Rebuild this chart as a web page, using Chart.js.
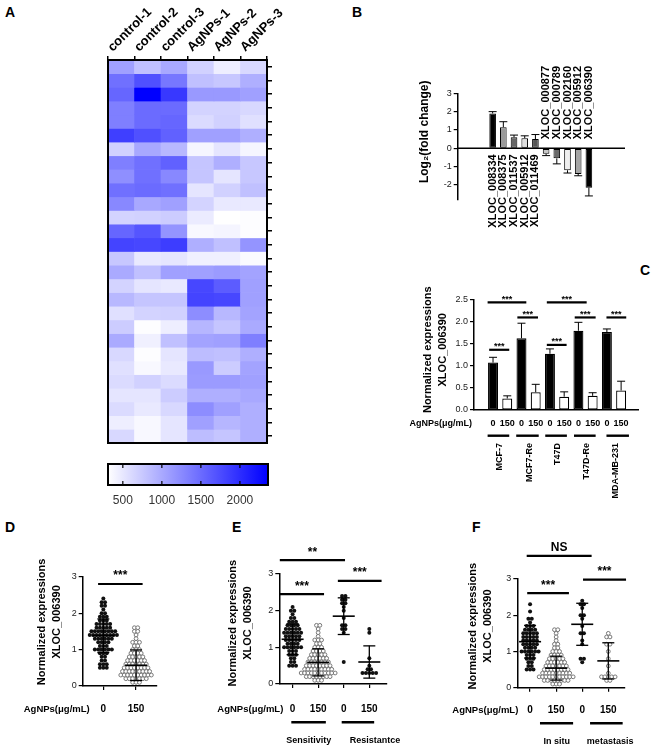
<!DOCTYPE html>
<html>
<head>
<meta charset="utf-8">
<script src="https://cdn.jsdelivr.net/npm/chart.js@4.4.1/dist/chart.umd.min.js"></script>
<style>
  html, body { margin: 0; padding: 0; background: #fff; }
  #fig { position: relative; width: 666px; height: 747px; overflow: hidden; background: #fff; }
  #fig canvas { position: absolute; left: 0; top: 0; }
  .tag { position: absolute; font: bold 14px "Liberation Sans", Arial, sans-serif; color: #000; }
</style>
</head>
<body>
<div id="fig">
  <div class="tag" style="left:5px;top:4px">A</div>
  <div class="tag" style="left:352px;top:4px">B</div>
  <div class="tag" style="left:640px;top:262px">C</div>
  <div class="tag" style="left:5px;top:519px">D</div>
  <div class="tag" style="left:232px;top:519px">E</div>
  <div class="tag" style="left:472px;top:519px">F</div>
</div>
<script>
const W = 666, H = 747;
const FONT = '"Liberation Sans", Arial, Helvetica, sans-serif';

// ---- A: heatmap (28 transcripts x 6 samples) ----
const heatCols = ["control-1", "control-2", "control-3", "AgNPs-1", "AgNPs-2", "AgNPs-3"];
const heatRows = [
    [1070, 820, 1010, 680, 450, 620],
    [1460, 1720, 1400, 820, 760, 950],
    [1540, 2360, 1910, 1130, 1130, 1070],
    [1340, 1500, 1500, 660, 660, 620],
    [1340, 1500, 1540, 600, 680, 560],
    [1850, 1720, 1580, 1070, 1070, 950],
    [680, 1010, 880, 390, 520, 390],
    [1340, 1460, 1580, 780, 950, 760],
    [1210, 1460, 1270, 780, 520, 760],
    [1460, 1500, 1460, 520, 680, 820],
    [1270, 1010, 1070, 660, 490, 490],
    [660, 680, 720, 470, 310, 330],
    [1540, 1680, 1170, 370, 390, 330],
    [1810, 1790, 1870, 950, 820, 1170],
    [760, 490, 520, 430, 430, 350],
    [990, 820, 1070, 1070, 1110, 1050],
    [660, 520, 490, 1790, 1620, 1070],
    [880, 780, 780, 1810, 1790, 1070],
    [560, 660, 680, 1230, 880, 1050],
    [720, 330, 450, 900, 780, 990],
    [990, 430, 820, 1050, 1070, 1340],
    [620, 330, 520, 840, 820, 950],
    [560, 370, 490, 1130, 720, 1050],
    [600, 680, 600, 1110, 1110, 1070],
    [520, 520, 720, 950, 950, 1010],
    [600, 490, 620, 1230, 1070, 950],
    [450, 370, 520, 1070, 900, 950],
    [620, 370, 520, 840, 780, 950],
];
const heatMin = 310;
const heatMax = 2360;
const heatBarTicks = [500, 1000, 1500, 2000];

// ---- B: log2 fold change ----
const bGenes = ["XLOC_008334", "XLOC_008375", "XLOC_011537", "XLOC_005912", "XLOC_011469",
    "XLOC_000877", "XLOC_000789", "XLOC_002160", "XLOC_005912", "XLOC_006390"];
const bFold = [1.9, 1.15, 0.6, 0.55, 0.5, -0.3, -0.55, -1.2, -1.4, -2.15];
const bErr = [0.1, 0.3, 0.12, 0.13, 0.25, 0.1, 0.3, 0.15, 0.1, 0.45];
const bTicks = [3, 2, 1, 0, -1, -2];

// ---- C: cell lines ----
const cDose = ["0", "150", "0", "150", "0", "150", "0", "150", "0", "150"];
const cCells = ["MCF-7", "MCF7-Re", "T47D", "T47D-Re", "MDA-MB-231"];
const cMean = [1.07, 0.26, 1.62, 0.40, 1.27, 0.30, 1.79, 0.32, 1.76, 0.44];
const cSd = [0.12, 0.06, 0.34, 0.18, 0.11, 0.11, 0.19, 0.07, 0.07, 0.21];
const cTicks = [0, 0.5, 1, 1.5, 2, 2.5];

// ---- D: all samples ----
const dDose = ["0", "150"];
const dCtrl = [2.4, 2.3, 2.3, 2.2, 2.2, 2.1, 2.0, 2.0, 1.9, 1.9, 1.9, 1.8, 1.8, 1.8,
    1.7, 1.7, 1.7, 1.7, 1.7, 1.6, 1.6, 1.6, 1.6, 1.6, 1.5, 1.5, 1.5, 1.5, 1.5, 1.5, 1.5, 1.5,
    1.4, 1.4, 1.4, 1.4, 1.4, 1.4, 1.4, 1.4, 1.4, 1.3, 1.3, 1.3, 1.3, 1.3, 1.3,
    1.2, 1.2, 1.2, 1.2, 1.1, 1.1, 1.1, 1.0, 1.0, 1.0, 1.0, 1.0, 1.0,
    0.9, 0.9, 0.9, 0.8, 0.8, 0.7, 0.7, 0.6, 0.6, 0.6, 0.5, 0.5, 0.5];
const dAg = [1.6, 1.6, 1.5, 1.5, 1.4, 1.3, 1.2, 1.2, 1.2, 1.1, 1.1, 1.0, 1.0, 1.0,
    0.9, 0.9, 0.9, 0.9, 0.8, 0.8, 0.8, 0.8, 0.8, 0.7, 0.7, 0.7, 0.7, 0.7, 0.7,
    0.6, 0.6, 0.6, 0.6, 0.6, 0.6, 0.6, 0.5, 0.5, 0.5, 0.5, 0.5, 0.5, 0.5, 0.5,
    0.4, 0.4, 0.4, 0.4, 0.4, 0.4, 0.4, 0.4, 0.4, 0.3, 0.3, 0.3, 0.3, 0.3, 0.3, 0.3, 0.3, 0.3, 0.3,
    0.2, 0.2, 0.2, 0.2, 0.2, 0.2, 0.2, 0.1, 0.1, 0.1];
const dMean = [1.38, 0.57];
const dSd = [0.46, 0.42];

// ---- E: sensitivity / resistance ----
const eDose = ["0", "150", "0", "150"];
const eSens0 = [2.1, 2.0, 2.0, 1.9, 1.8, 1.8, 1.7, 1.7, 1.7, 1.6, 1.6, 1.6, 1.6,
    1.5, 1.5, 1.5, 1.5, 1.5, 1.4, 1.4, 1.4, 1.4, 1.4, 1.4, 1.3, 1.3, 1.3, 1.3, 1.3,
    1.2, 1.2, 1.2, 1.2, 1.2, 1.1, 1.1, 1.1, 1.1, 1.0, 1.0, 1.0, 1.0, 1.0, 1.0,
    0.9, 0.9, 0.9, 0.8, 0.8, 0.8, 0.7, 0.7, 0.6, 0.6, 0.5, 0.5, 0.5];
const eSens150 = [1.6, 1.6, 1.5, 1.4, 1.3, 1.2, 1.2, 1.2, 1.1, 1.1, 1.0, 1.0, 1.0,
    0.9, 0.9, 0.9, 0.9, 0.8, 0.8, 0.8, 0.8, 0.8, 0.7, 0.7, 0.7, 0.7, 0.7, 0.7,
    0.6, 0.6, 0.6, 0.6, 0.6, 0.6, 0.6, 0.5, 0.5, 0.5, 0.5, 0.5, 0.5, 0.5, 0.5,
    0.4, 0.4, 0.4, 0.4, 0.4, 0.4, 0.4, 0.4, 0.4,
    0.3, 0.3, 0.3, 0.3, 0.3, 0.3, 0.3, 0.3, 0.3, 0.3, 0.3,
    0.2, 0.2, 0.2, 0.2, 0.2, 0.2, 0.2, 0.2, 0.1, 0.1, 0.1];
const eRes0 = [2.4, 2.4, 2.3, 2.3, 2.2, 2.2, 2.1, 2.0, 1.8, 1.6, 1.6, 1.5, 1.5, 1.4, 0.6];
const eRes150 = [1.5, 1.4, 0.7, 0.5, 0.4, 0.4, 0.3, 0.3, 0.3, 0.3, 0.3];
const eMean = [1.22, 0.59, 1.85, 0.6];
const eSd = [0.42, 0.37, 0.5, 0.44];

// ---- F: in situ / metastasis ----
const fDose = ["0", "150", "0", "150"];
const fSitu0 = [2.3, 2.1, 1.9, 1.9, 1.8, 1.7, 1.7, 1.7, 1.6, 1.6, 1.6, 1.6,
    1.5, 1.5, 1.5, 1.5, 1.5, 1.4, 1.4, 1.4, 1.4, 1.4, 1.3, 1.3, 1.3, 1.3, 1.3,
    1.2, 1.2, 1.2, 1.2, 1.2, 1.1, 1.1, 1.1, 1.1, 1.0, 1.0, 1.0, 1.0, 1.0, 1.0,
    0.9, 0.9, 0.9, 0.8, 0.8, 0.8, 0.7, 0.7, 0.6, 0.6, 0.5, 0.5, 0.5];
const fSitu150 = [1.6, 1.6, 1.5, 1.4, 1.3, 1.2, 1.2, 1.1, 1.1, 1.0, 1.0, 1.0,
    0.9, 0.9, 0.9, 0.9, 0.8, 0.8, 0.8, 0.8, 0.8, 0.7, 0.7, 0.7, 0.7, 0.7, 0.7,
    0.6, 0.6, 0.6, 0.6, 0.6, 0.6, 0.6, 0.5, 0.5, 0.5, 0.5, 0.5, 0.5, 0.5, 0.5,
    0.4, 0.4, 0.4, 0.4, 0.4, 0.4, 0.4, 0.4, 0.4,
    0.3, 0.3, 0.3, 0.3, 0.3, 0.3, 0.3, 0.3, 0.3, 0.3, 0.3,
    0.2, 0.2, 0.2, 0.2, 0.2, 0.2, 0.2, 0.2, 0.1, 0.1, 0.1];
const fMet0 = [2.4, 2.3, 2.3, 2.2, 2.0, 2.0, 1.9, 1.7, 1.5, 1.5, 1.3, 1.2, 0.8, 0.8, 0.7];
const fMet150 = [1.5, 1.4, 1.4, 1.2, 1.2, 1.0, 0.8, 0.6, 0.4, 0.3, 0.3, 0.3, 0.3, 0.3, 0.2, 0.2];
const fMean = [1.27, 0.54, 1.75, 0.74];
const fSd = [0.45, 0.33, 0.58, 0.5];

const exprTitle = ["Normalized expressions", "XLOC_006390"];

Chart.defaults.font.family = FONT;
Chart.defaults.color = "#111";

function makeCtx() {
    const c = document.createElement("canvas");
    c.width = W;
    c.height = H;
    document.getElementById("fig").appendChild(c);
    return c.getContext("2d");
}

function pad(l, t, r, b) {
    return { left: l, top: t, right: W - r, bottom: H - b };
}

function line(ctx, x1, y1, x2, y2, w) {
    ctx.save();
    ctx.strokeStyle = "#000";
    ctx.lineWidth = w || 1;
    ctx.beginPath();
    ctx.moveTo(x1, y1);
    ctx.lineTo(x2, y2);
    ctx.stroke();
    ctx.restore();
}

function text(ctx, s, x, y, font, align, rot, base) {
    ctx.save();
    ctx.translate(x, y);
    if (rot) ctx.rotate(rot);
    ctx.font = font;
    ctx.fillStyle = "#000";
    ctx.textAlign = align || "center";
    ctx.textBaseline = base || "middle";
    ctx.fillText(s, 0, 0);
    ctx.restore();
}

function heatColor(v) {
    const t = Math.max(0, Math.min(1, (v - heatMin) / (heatMax - heatMin)));
    const c = Math.round(255 * (1 - t));
    return "rgb(" + c + "," + c + ",255)";
}

// beeswarm: equal values are laid side by side around the group centre
function swarm(values, center, step) {
    const total = {}, seen = {};
    values.forEach(function (v) { total[v] = (total[v] || 0) + 1; });
    return values.map(function (v) {
        const k = (seen[v] = (seen[v] || 0) + 1) - 1;
        return { x: center + (k - (total[v] - 1) / 2) * step, y: v };
    });
}

function fixedTicks(list) {
    return function (s) { s.ticks = list.map(function (v) { return { value: v }; }); };
}

const framePlugin = {
    id: "frame",
    afterDatasetsDraw: function (chart, args, o) {
        const a = chart.chartArea, ctx = chart.ctx;
        ctx.save();
        ctx.strokeStyle = "#000";
        ctx.lineWidth = o.width || 2;
        ctx.strokeRect(a.left, a.top, a.right - a.left, a.bottom - a.top);
        if (o.inner) {
            o.inner.forEach(function (v) {
                const px = chart.scales.x.getPixelForValue(v);
                line(ctx, px, a.top, px, a.top + 4, 1.2);
                line(ctx, px, a.bottom - 4, px, a.bottom, 1.2);
            });
        }
        ctx.restore();
    },
};

// significance brackets, group underlines, error bars, axis titles, side labels
const annot = {
    id: "annot",
    afterDatasetsDraw: function (chart, args, o) {
        const ctx = chart.ctx, x = chart.scales.x, y = chart.scales.y, a = chart.chartArea;
        if (o.zero) line(ctx, a.left, y.getPixelForValue(0), a.right, y.getPixelForValue(0), 1.5);
        if (o.err) {
            chart.getDatasetMeta(0).data.forEach(function (bar, i) {
                const v = o.vals[i], tip = v + (v >= 0 ? o.err[i] : -o.err[i]);
                const yt = y.getPixelForValue(tip), yv = y.getPixelForValue(v);
                line(ctx, bar.x, yv, bar.x, yt, 1);
                line(ctx, bar.x - o.cap, yt, bar.x + o.cap, yt, 1);
            });
        }
        if (o.meanSd) {
            o.meanSd.mean.forEach(function (m, i) {
                const cx = x.getPixelForValue(i), sd = o.meanSd.sd[i];
                const ym = y.getPixelForValue(m), y1 = y.getPixelForValue(m + sd), y2 = y.getPixelForValue(m - sd);
                line(ctx, cx, y1, cx, y2, 1.3);
                line(ctx, cx - o.meanSd.half, ym, cx + o.meanSd.half, ym, 1.6);
                line(ctx, cx - o.meanSd.cap, y1, cx + o.meanSd.cap, y1, 1.3);
                line(ctx, cx - o.meanSd.cap, y2, cx + o.meanSd.cap, y2, 1.3);
            });
        }
    },
    afterDraw: function (chart, args, o) {
        const ctx = chart.ctx, x = chart.scales.x, y = chart.scales.y, a = chart.chartArea;
        (o.sig || []).forEach(function (s) {
            const yy = y.getPixelForValue(s.y), x1 = x.getPixelForValue(s.a), x2 = x.getPixelForValue(s.b);
            line(ctx, x1, yy, x2, yy, 2.2);
            text(ctx, s.text, (x1 + x2) / 2, yy - o.sigGap, "bold " + (s.size || o.sigSize) + "px " + FONT, "center", 0, "alphabetic");
        });
        if (o.under) {
            o.under.lines.forEach(function (u) {
                line(ctx, x.getPixelForValue(u[0]), a.bottom + o.under.dy, x.getPixelForValue(u[1]), a.bottom + o.under.dy, 2.4);
            });
        }
        if (o.names) {
            o.names.items.forEach(function (n) {
                const px = x.getPixelForValue(n.x);
                if (o.names.rotate) text(ctx, n.text, px, a.bottom + o.names.dy, o.names.font, "right", -Math.PI / 2);
                else text(ctx, n.text, px, a.bottom + o.names.dy, o.names.font, "center");
            });
        }
        if (o.genes) {
            const zero = y.getPixelForValue(0);
            o.genes.forEach(function (g, i) {
                const px = x.getPixelForValue(i);
                if (o.vals[i] >= 0) text(ctx, g, px, zero + 6, "bold 11px " + FONT, "right", -Math.PI / 2);
                else text(ctx, g, px, zero - 9, "bold 11px " + FONT, "left", -Math.PI / 2);
            });
        }
        if (o.ytitle) {
            const t = o.ytitle, lines = [].concat(t.text);
            lines.forEach(function (s, i) {
                text(ctx, s, a.left + t.dx + i * 15, y.getPixelForValue(t.at), t.font, "center", -Math.PI / 2);
            });
        }
        if (o.side) text(ctx, o.side.text, a.left + o.side.dx, a.bottom + o.side.dy, o.side.font, "right");
    },
};

function axisY(extra) {
    return Object.assign({
        grid: { drawOnChartArea: false, tickLength: 4, color: "#000", lineWidth: 1.2 },
        border: { color: "#000", width: 1.5 },
        ticks: { color: "#222", padding: 2, font: { size: 9 } },
    }, extra);
}

const base = function (padding, plugins) {
    return {
        responsive: false,
        animation: false,
        events: [],
        layout: { padding: padding },
        plugins: Object.assign({ legend: { display: false }, tooltip: { enabled: false } }, plugins),
    };
};

// ---------- A: heatmap ----------
(function () {
    const opts = base(pad(108, 0, 267 + 12, 443), { frame: { width: 2 } });
    opts.scales = {
        x: {
            position: "top", stacked: true,
            afterFit: function (s) { s.height = 60; },
            grid: { drawOnChartArea: false, tickLength: 4, color: "#000", lineWidth: 1.5 },
            border: { color: "#000", width: 2 },
            ticks: { minRotation: 45, maxRotation: 45, padding: 1, color: "#000", font: { size: 13, weight: "bold" } },
        },
        y: {
            position: "right", stacked: true, reverse: true, min: 0, max: heatRows.length,
            afterFit: function (s) { s.width = 12; },
            afterBuildTicks: function (s) {
                s.ticks = heatRows.map(function (r, i) { return { value: i + 0.5 }; });
            },
            grid: { drawOnChartArea: false, tickLength: 5, color: "#000", lineWidth: 1.5 },
            border: { color: "#000", width: 2 },
            ticks: { display: false },
        },
    };
    new Chart(makeCtx(), {
        type: "bar",
        data: {
            labels: heatCols,
            datasets: heatRows.map(function (row) {
                return {
                    data: row.map(function () { return 1; }),
                    backgroundColor: row.map(heatColor),
                    borderWidth: 0, barPercentage: 1, categoryPercentage: 1,
                };
            }),
        },
        options: opts,
        plugins: [framePlugin],
    });

    // colour bar
    const cb = base(pad(108, 464, 268, 485 + 30), { frame: { width: 2, inner: heatBarTicks } });
    cb.indexAxis = "y";
    cb.scales = {
        x: {
            min: heatMin, max: heatMax,
            afterFit: function (s) { s.height = 30; },
            afterBuildTicks: fixedTicks(heatBarTicks),
            grid: { display: false, drawTicks: false }, border: { display: false },
            ticks: { color: "#333", padding: 8, font: { size: 12 }, callback: function (v) { return String(v); } },
        },
        y: { display: false },
    };
    new Chart(makeCtx(), {
        type: "bar",
        data: {
            labels: [""],
            datasets: [{
                data: [[heatMin, heatMax]], borderWidth: 0, barPercentage: 1, categoryPercentage: 1,
                backgroundColor: function (c) {
                    const a = c.chart.chartArea;
                    if (!a) return "#8080ff";
                    const g = c.chart.ctx.createLinearGradient(a.left, 0, a.right, 0);
                    g.addColorStop(0, "#ffffff");
                    g.addColorStop(1, "#0000ff");
                    return g;
                },
            }],
        },
        options: cb,
        plugins: [framePlugin],
    });
})();

// ---------- B ----------
(function () {
    const opts = base(pad(418, 93.3, 625, 199.6), {
        annot: {
            zero: true, err: bErr, vals: bFold, cap: 4, genes: bGenes,
            ytitle: { text: "Log\u2082(fold change)", dx: -33, at: 0.9, font: "bold 12px " + FONT },
        },
    });
    opts.scales = {
        x: { type: "linear", min: -0.66, max: 9.77, display: false },
        y: axisY({
            min: -2.8, max: 3,
            afterFit: function (s) { s.width = 39.7; },
            afterBuildTicks: fixedTicks(bTicks),
        }),
    };
    new Chart(makeCtx(), {
        type: "bar",
        data: {
            datasets: [{
                data: bFold.map(function (v, i) { return { x: i, y: v }; }),
                backgroundColor: ["#000", "#9a9a9a", "#666", "#dedede", "#555", "#c8c8c8", "#6a6a6a", "#efefef", "#a5a5a5", "#000"],
                borderColor: "#000", borderWidth: 1, borderSkipped: false,
                barPercentage: 0.62, categoryPercentage: 1,
            }],
        },
        options: opts,
        plugins: [annot],
    });
})();

// ---------- C ----------
(function () {
    const opts = base(pad(420.5, 299.3, 638, 410 + 30), {
        annot: {
            err: cSd, vals: cMean, cap: 4, sigGap: 0.5, sigSize: 9,
            sig: [
                { a: -0.27, b: 1.14, y: 1.36, text: "***" },
                { a: 1.71, b: 3.16, y: 2.09, text: "***" },
                { a: -0.38, b: 2.34, y: 2.43, text: "***" },
                { a: 3.78, b: 5.17, y: 1.47, text: "***" },
                { a: 5.74, b: 7.21, y: 2.09, text: "***" },
                { a: 3.78, b: 6.58, y: 2.43, text: "***" },
                { a: 7.97, b: 9.36, y: 2.09, text: "***" },
            ],
            under: { dy: 25.7, lines: [[-0.38, 1.14], [1.63, 3.21], [3.67, 5.19], [5.69, 7.21], [7.97, 9.55]] },
            names: {
                dy: 33, rotate: true, font: "bold 9px " + FONT,
                items: cCells.map(function (c, i) { return { x: [0.44, 2.57, 4.55, 6.58, 8.58][i], text: c }; }),
            },
            side: { text: "AgNPs(\u03bcg/mL)", dx: -2, dy: 14, font: "bold 9px " + FONT },
            ytitle: { text: exprTitle, dx: -45.7, at: 1.36, font: "bold 11px " + FONT },
        },
    });
    opts.scales = {
        x: {
            type: "linear", min: -0.76, max: 9.61,
            afterFit: function (s) { s.height = 30; },
            afterBuildTicks: fixedTicks(cDose.map(function (d, i) { return i; })),
            grid: { display: false, drawTicks: false },
            border: { color: "#000", width: 1.5 },
            ticks: {
                color: "#000", padding: 8, autoSkip: false, minRotation: 0, maxRotation: 0,
                font: { size: 9, weight: "bold" }, callback: function (v) { return cDose[v]; },
            },
        },
        y: axisY({
            min: 0, max: 2.5,
            afterFit: function (s) { s.width = 53.5; },
            afterBuildTicks: fixedTicks(cTicks),
            ticks: { color: "#222", padding: 2, font: { size: 9 }, callback: function (v) { return v.toFixed(1); } },
        }),
    };
    new Chart(makeCtx(), {
        type: "bar",
        data: {
            datasets: [{
                data: cMean.map(function (v, i) { return { x: i, y: v }; }),
                backgroundColor: cDose.map(function (d) { return d === "0" ? "#000" : "#fff"; }),
                borderColor: "#000", borderWidth: 1.2, borderSkipped: false,
                barPercentage: 0.7, categoryPercentage: 1,
            }],
        },
        options: opts,
        plugins: [annot],
    });
})();

// ---------- D, E, F: scatter dot plots ----------
function dotPanel(p) {
    const unit = (p.area[2] - p.area[0]) / (p.xMax - p.xMin);
    const step = 3.4 / unit;
    const xh = 40;
    const padL = p.area[0] - 50;
    const opts = base(pad(padL, p.area[1], p.area[2], p.area[3] + xh), {
        annot: {
            meanSd: { mean: p.mean, sd: p.sd, half: 11, cap: 6 },
            sig: p.sig, sigGap: 4.5, sigSize: 12,
            under: p.under, names: p.names,
            side: { text: "AgNPs(\u03bcg/mL)", dx: p.sideDx, dy: p.labelY - p.area[3], font: "bold 9.5px " + FONT },
            ytitle: { text: exprTitle, dx: p.titleX - p.area[0], at: p.titleAt, font: "bold 11px " + FONT },
        },
    });
    opts.scales = {
        x: {
            type: "linear", min: p.xMin, max: p.xMax,
            afterFit: function (s) { s.height = xh; },
            afterBuildTicks: fixedTicks(p.dose.map(function (d, i) { return i; })),
            grid: { drawOnChartArea: false, tickLength: 4, color: "#000", lineWidth: 1.2 },
            border: { color: "#000", width: 1.5 },
            ticks: {
                color: "#000", padding: p.labelY - p.area[3] - 4 - 6, autoSkip: false, maxRotation: 0,
                font: { size: 10, weight: "bold" },
                callback: function (v) { return p.dose[v]; },
            },
        },
        y: axisY({
            min: 0, max: 3,
            afterFit: function (s) { s.width = 50; },
            afterBuildTicks: fixedTicks([0, 1, 2, 3]),
        }),
    };
    new Chart(makeCtx(), {
        type: "scatter",
        data: {
            datasets: p.groups.map(function (g, i) {
                const open = p.open[i];
                return {
                    data: swarm(g, i, step),
                    pointRadius: open ? 1.9 : 2,
                    pointBackgroundColor: open ? "#fff" : "#111",
                    pointBorderColor: open ? "#777" : "#111",
                    pointBorderWidth: open ? 1 : 0,
                };
            }),
        },
        options: opts,
        plugins: [annot],
    });
}

dotPanel({
    area: [82.7, 576.7, 156.7, 686], xMin: -0.63, xMax: 1.63, titleX: 41.7, titleAt: 1.76, labelY: 709.3, sideDx: 7,
    dose: dDose, groups: [dCtrl, dAg], open: [false, true], mean: dMean, sd: dSd,
    sig: [{ a: -0.16, b: 1.2, y: 2.8, text: "***" }],
});

dotPanel({
    area: [279.3, 574, 386.7, 684], xMin: -0.52, xMax: 3.68, titleX: 232.7, titleAt: 1.66, labelY: 709.3, sideDx: 4,
    dose: eDose, groups: [eSens0, eSens150, eRes0, eRes150], open: [false, true, false, false], mean: eMean, sd: eSd,
    sig: [
        { a: -0.5, b: 2.05, y: 3.38, text: "**" },
        { a: -0.5, b: 1.23, y: 2.45, text: "***" },
        { a: 1.77, b: 3.48, y: 2.81, text: "***" },
    ],
    under: { dy: 38.3, lines: [[-0.05, 1.3], [1.92, 3.19]] },
    names: { dy: 57, font: "bold 9px " + FONT, items: [{ x: 0.63, text: "Sensitivity" }, { x: 3.22, text: "Resistantce" }] },
});

dotPanel({
    area: [517.3, 579, 625, 687.7], xMin: -0.49, xMax: 3.64, titleX: 473.3, titleAt: 1.7, labelY: 710, sideDx: 1,
    dose: fDose, groups: [fSitu0, fSitu150, fMet0, fMet150], open: [false, true, false, true], mean: fMean, sd: fSd,
    sig: [
        { a: -0.13, b: 2.36, y: 3.64, text: "NS" },
        { a: -0.11, b: 1.49, y: 2.61, text: "***" },
        { a: 2.03, b: 3.68, y: 2.98, text: "***" },
    ],
    under: { dy: 35.6, lines: [[0.38, 1.65], [2.3, 3.55]] },
    names: { dy: 54, font: "bold 9px " + FONT, items: [{ x: 1.02, text: "In situ" }, { x: 3.07, text: "metastasis" }] },
});
</script>
</body>
</html>
